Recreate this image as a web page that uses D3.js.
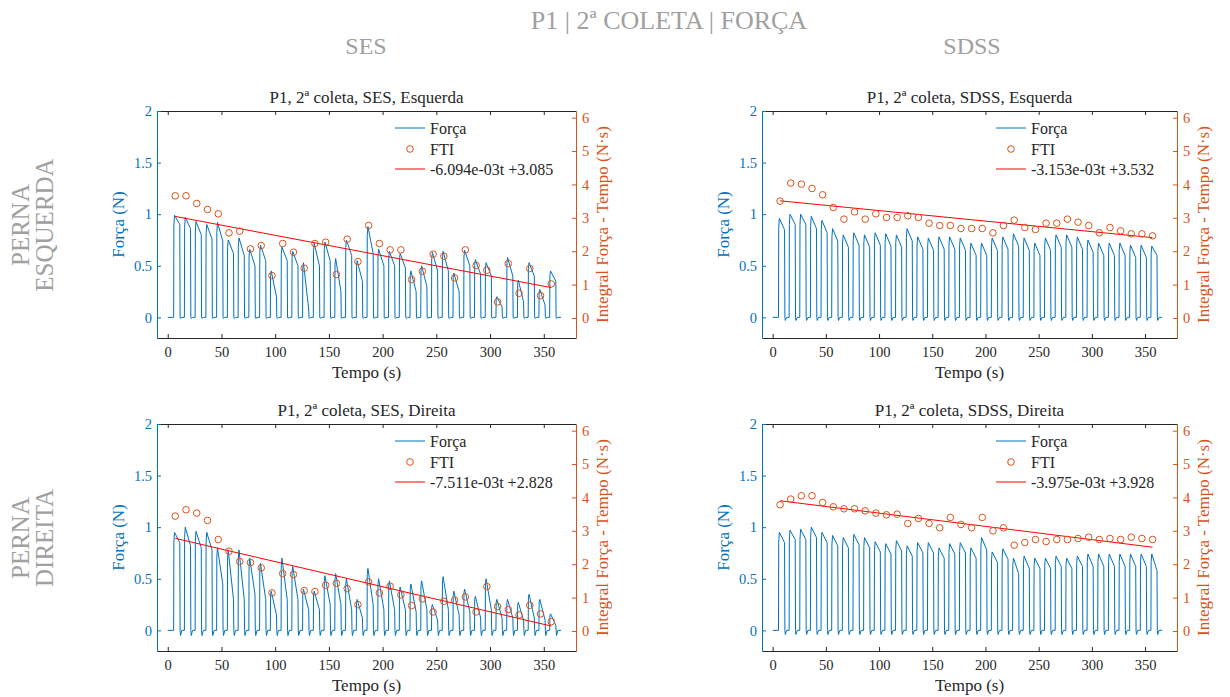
<!DOCTYPE html>
<meta charset="utf-8">
<style>
	body { margin: 0; background: #fff; }
	svg { font-family: "Liberation Serif", "DejaVu Serif", serif; }
	.axis text { font-family: "Liberation Serif", "DejaVu Serif", serif; font-size: 14.5px; }
</style>
<svg width="1230" height="697"></svg>
<script src="https://d3js.org/d3.v7.min.js"></script>
<script>

// tempos (s)
var tempoFTI = [7,17,27,37,47,57,67,77,87,97,107,117,127,137,147,157,167,177,187,197,207,217,227,237,247,257,267,277,287,297,307,317,327,337,347,357];
var inicioPulso = [5.5,15.5,25.5,35.5,45.5,55.5,65.5,75.5,85.5,95.5,105.5,115.5,125.5,135.5,145.5,155.5,165.5,175.5,185.5,195.5,205.5,215.5,225.5,235.5,245.5,255.5,265.5,275.5,285.5,295.5,305.5,315.5,325.5,335.5,345.5,355.5];
var fimPulso = [11.5,21.5,31.5,41.5,51.5,61.5,71.5,81.5,91.5,101.5,111.5,121.5,131.5,141.5,151.5,161.5,171.5,181.5,191.5,201.5,211.5,221.5,231.5,241.5,251.5,261.5,271.5,281.5,291.5,301.5,311.5,321.5,331.5,341.5,351.5,361.5];
var inicioSinal = 0, fimSinal = 366;

// SES, Esquerda
var picoSesEsq = [0.99,0.97,0.93,0.90,0.92,0.75,0.77,0.66,0.70,0.45,0.68,0.64,0.53,0.72,0.73,0.57,0.75,0.55,0.88,0.66,0.64,0.62,0.45,0.50,0.63,0.64,0.43,0.65,0.56,0.53,0.20,0.58,0.36,0.53,0.27,0.45];
var finalSesEsq = [0.90,0.86,0.80,0.76,0.74,0.62,0.60,0.50,0.55,0.20,0.55,0.50,0.08,0.50,0.55,0.25,0.60,0.35,0.62,0.50,0.50,0.48,0.25,0.30,0.45,0.45,0.25,0.50,0.42,0.40,0.10,0.40,0.15,0.40,0.12,0.35];
var ftiSesEsq = [3.66,3.66,3.43,3.25,3.12,2.55,2.60,2.07,2.17,1.27,2.23,1.97,1.49,2.23,2.27,1.30,2.36,1.69,2.77,2.23,2.04,2.04,1.15,1.40,1.91,1.85,1.20,2.04,1.57,1.43,0.48,1.63,0.74,1.48,0.67,1.02];

// SDSS, Esquerda
var picoSdssEsq = [0.96,1.00,1.00,0.98,0.94,0.86,0.80,0.82,0.80,0.82,0.81,0.80,0.86,0.78,0.77,0.78,0.78,0.77,0.72,0.72,0.77,0.78,0.81,0.77,0.72,0.77,0.80,0.80,0.78,0.75,0.72,0.72,0.72,0.70,0.70,0.69];
var finalSdssEsq = [0.85,0.90,0.90,0.86,0.82,0.74,0.68,0.70,0.68,0.70,0.69,0.68,0.74,0.66,0.65,0.66,0.66,0.65,0.60,0.60,0.65,0.66,0.69,0.65,0.60,0.65,0.68,0.68,0.66,0.63,0.60,0.60,0.60,0.58,0.58,0.60];
var ftiSdssEsq = [3.50,4.04,4.01,3.88,3.69,3.31,2.96,3.18,2.96,3.12,3.01,3.01,3.06,3.01,2.84,2.77,2.77,2.68,2.68,2.68,2.55,2.77,2.93,2.71,2.65,2.84,2.84,2.96,2.87,2.77,2.55,2.71,2.61,2.52,2.52,2.46];

// SES, Direita
var picoSesDir = [0.95,1.00,0.96,0.95,0.80,0.78,0.78,0.70,0.65,0.38,0.70,0.62,0.40,0.38,0.53,0.55,0.50,0.30,0.60,0.50,0.48,0.42,0.45,0.48,0.25,0.52,0.38,0.40,0.33,0.50,0.30,0.30,0.27,0.35,0.30,0.16];
var finalSesDir = [0.85,0.82,0.80,0.78,0.45,0.30,0.30,0.35,0.30,0.15,0.30,0.30,0.20,0.20,0.25,0.25,0.20,0.12,0.25,0.20,0.20,0.20,0.18,0.20,0.10,0.20,0.15,0.18,0.12,0.20,0.12,0.12,0.10,0.12,0.10,0.05];
var ftiSesDir = [3.44,3.63,3.53,3.31,2.74,2.39,2.08,2.05,1.89,1.14,1.72,1.69,1.21,1.18,1.37,1.43,1.27,0.79,1.47,1.14,1.34,1.08,0.76,0.96,0.57,0.89,0.92,1.02,0.57,1.33,0.73,0.64,0.48,0.77,0.51,0.28];

// SDSS, Direita
var picoSdssDir = [0.95,0.97,0.98,1.00,0.95,0.92,0.90,0.93,0.90,0.86,0.84,0.87,0.82,0.85,0.85,0.80,0.84,0.85,0.80,0.90,0.76,0.79,0.70,0.72,0.70,0.70,0.72,0.70,0.72,0.74,0.74,0.74,0.74,0.74,0.74,0.74];
var finalSdssDir = [0.85,0.88,0.88,0.90,0.85,0.82,0.80,0.83,0.80,0.76,0.74,0.77,0.72,0.75,0.75,0.70,0.74,0.75,0.70,0.78,0.66,0.69,0.55,0.60,0.60,0.60,0.62,0.60,0.62,0.62,0.62,0.62,0.62,0.62,0.62,0.58];
var ftiSdssDir = [3.78,3.95,4.05,4.05,3.85,3.72,3.66,3.66,3.60,3.53,3.48,3.50,3.22,3.37,3.22,3.09,3.40,3.19,3.09,3.40,3.00,3.09,2.57,2.65,2.74,2.68,2.74,2.74,2.77,2.81,2.74,2.77,2.74,2.81,2.77,2.74];

// pequeno vale da linha de base após cada pulso (N)
var valeBase = [-0.01, -0.03, -0.05, -0.04];

// ajuste linear: inclinação, intercepto
var inclinacao = [-6.094e-3, -3.153e-3, -7.511e-3, -3.975e-3];
var intercepto = [3.085, 3.532, 2.828, 3.928];
var textoAjuste = ["-6.094e-03t +3.085", "-3.153e-03t +3.532", "-7.511e-03t +2.828", "-3.975e-03t +3.928"];
var titulos = ["P1, 2ª coleta, SES, Esquerda", "P1, 2ª coleta, SDSS, Esquerda", "P1, 2ª coleta, SES, Direita", "P1, 2ª coleta, SDSS, Direita"];

var ticksX = [0,50,100,150,200,250,300,350];
var ticksForca = [0,0.5,1,1.5,2];
var ticksFTI = [0,1,2,3,4,5,6];

var azul = "#0072BD", laranja = "#D95319", vermelho = "#FF0000", preto = "#262626", cinza = "#A0A0A0";

var svg = d3.select("svg");

var paineis = [
	{pico: picoSesEsq, fim: finalSesEsq, fti: ftiSesEsq, left: 157, right: 576, top: 111, bottom: 338},
	{pico: picoSdssEsq, fim: finalSdssEsq, fti: ftiSdssEsq, left: 762, right: 1177, top: 111, bottom: 338},
	{pico: picoSesDir, fim: finalSesDir, fti: ftiSesDir, left: 157, right: 576, top: 424, bottom: 651},
	{pico: picoSdssDir, fim: finalSdssDir, fti: ftiSdssDir, left: 762, right: 1177, top: 424, bottom: 651}
];

paineis.forEach(function(p, k) {
	var x = d3.scaleLinear().domain([-10, 380]).range([p.left, p.right]),
		yF = d3.scaleLinear().domain([-0.2, 2]).range([p.bottom, p.top]),
		yI = d3.scaleLinear().domain([-0.6, 6.2]).range([p.bottom, p.top]);
	var g = svg.append("g");

	// sinal de força
	var pts = [[inicioSinal, 0]];
	inicioPulso.forEach(function(t0, i) {
		var t1 = fimPulso[i];
		pts.push([t0, 0], [t0 + 0.2, p.pico[i] * 0.9], [t0 + 0.8, p.pico[i]],
			[t1 - 0.3, p.fim[i]], [t1, 0], [t1 + 0.4, valeBase[k]], [t1 + 1.6, 0]);
	});
	pts.push([fimSinal, 0]);

	var line = d3.line()
		.x(function(d) { return x(d[0]); })
		.y(function(d) { return yF(d[1]); });

	g.append("path")
		.datum(pts)
		.attr("d", line)
		.attr("fill", "none")
		.attr("stroke", azul)
		.attr("stroke-width", 1);

	// reta de ajuste
	var t0 = tempoFTI[0], t1 = tempoFTI[tempoFTI.length - 1];
	g.append("line")
		.attr("x1", x(t0)).attr("y1", yI(inclinacao[k] * t0 + intercepto[k]))
		.attr("x2", x(t1)).attr("y2", yI(inclinacao[k] * t1 + intercepto[k]))
		.attr("stroke", vermelho)
		.attr("stroke-width", 1);

	// FTI
	g.selectAll(".fti")
		.data(p.fti).enter().append("circle")
		.attr("cx", function(d, i) { return x(tempoFTI[i]); })
		.attr("cy", function(d) { return yI(d); })
		.attr("r", 3.3)
		.attr("fill", "none")
		.attr("stroke", laranja)
		.attr("stroke-width", 1);

	// eixos
	var axB = g.append("g").attr("class", "axis")
		.attr("transform", "translate(0," + p.bottom + ")")
		.call(d3.axisBottom(x).tickValues(ticksX).tickSize(-4).tickSizeOuter(0).tickPadding(9));
	axB.selectAll("path, line").attr("stroke", preto);
	axB.selectAll("text").attr("fill", preto);

	var axT = g.append("g").attr("class", "axis")
		.attr("transform", "translate(0," + p.top + ")")
		.call(d3.axisTop(x).tickValues(ticksX).tickSize(-4).tickSizeOuter(0).tickFormat(""));
	axT.selectAll("path, line").attr("stroke", preto);

	var axL = g.append("g").attr("class", "axis")
		.attr("transform", "translate(" + p.left + ",0)")
		.call(d3.axisLeft(yF).tickValues(ticksForca).tickSize(-4).tickSizeOuter(0).tickPadding(5).tickFormat(d3.format("")));
	axL.selectAll("path, line").attr("stroke", azul);
	axL.selectAll("text").attr("fill", azul);

	var axR = g.append("g").attr("class", "axis")
		.attr("transform", "translate(" + p.right + ",0)")
		.call(d3.axisRight(yI).tickValues(ticksFTI).tickSize(-4).tickSizeOuter(0).tickPadding(6).tickFormat(d3.format("")));
	axR.selectAll("path, line").attr("stroke", laranja);
	axR.selectAll("text").attr("fill", laranja);

	var mx = (p.left + p.right) / 2, my = (p.top + p.bottom) / 2;

	g.append("text")
		.attr("x", mx).attr("y", p.top - 8)
		.attr("text-anchor", "middle")
		.style("font-size", "17px")
		.attr("fill", preto)
		.text(titulos[k]);

	g.append("text")
		.attr("x", mx).attr("y", p.bottom + 40)
		.attr("text-anchor", "middle")
		.style("font-size", "17px")
		.attr("fill", preto)
		.text("Tempo (s)");

	g.append("text")
		.attr("transform", "translate(" + (p.left - 39) + "," + my + ") rotate(-90)")
		.attr("dy", "0.35em")
		.attr("text-anchor", "middle")
		.style("font-size", "17px")
		.attr("fill", azul)
		.text("Força (N)");

	g.append("text")
		.attr("transform", "translate(" + (p.right + 26) + "," + my + ") rotate(-90)")
		.attr("dy", "0.35em")
		.attr("text-anchor", "middle")
		.style("font-size", "17px")
		.attr("fill", laranja)
		.text("Integral Força - Tempo (N·s)");

	// legenda
	var lx = p.right - 181, ly = p.top + 17;
	var leg = g.append("g").style("font-size", "16px").attr("fill", preto);
	leg.append("line").attr("x1", lx).attr("x2", lx + 30).attr("y1", ly).attr("y2", ly)
		.attr("stroke", azul).attr("stroke-width", 1);
	leg.append("text").attr("x", lx + 35).attr("y", ly).attr("dy", "0.35em").text("Força");
	leg.append("circle").attr("cx", lx + 15).attr("cy", ly + 21).attr("r", 3.3)
		.attr("fill", "none").attr("stroke", laranja);
	leg.append("text").attr("x", lx + 35).attr("y", ly + 21).attr("dy", "0.35em").text("FTI");
	leg.append("line").attr("x1", lx).attr("x2", lx + 30).attr("y1", ly + 41).attr("y2", ly + 41)
		.attr("stroke", vermelho).attr("stroke-width", 1);
	leg.append("text").attr("x", lx + 35).attr("y", ly + 41).attr("dy", "0.35em").text(textoAjuste[k]);
});

// títulos gerais
svg.append("text").attr("x", 669).attr("y", 29).attr("text-anchor", "middle")
	.style("font-size", "26px").attr("fill", cinza).text("P1 | 2ª COLETA | FORÇA");
svg.append("text").attr("x", 366).attr("y", 54).attr("text-anchor", "middle")
	.style("font-size", "24px").attr("fill", cinza).text("SES");
svg.append("text").attr("x", 972).attr("y", 54).attr("text-anchor", "middle")
	.style("font-size", "24px").attr("fill", cinza).text("SDSS");

[["PERNA", "ESQUERDA", 225], ["PERNA", "DIREITA", 538]].forEach(function(r) {
	svg.append("text").attr("transform", "translate(20," + r[2] + ") rotate(-90)")
		.attr("dy", "0.35em").attr("text-anchor", "middle")
		.style("font-size", "25px").attr("fill", cinza).text(r[0]);
	svg.append("text").attr("transform", "translate(44," + r[2] + ") rotate(-90)")
		.attr("dy", "0.35em").attr("text-anchor", "middle")
		.style("font-size", "25px").attr("fill", cinza).text(r[1]);
});

</script>
